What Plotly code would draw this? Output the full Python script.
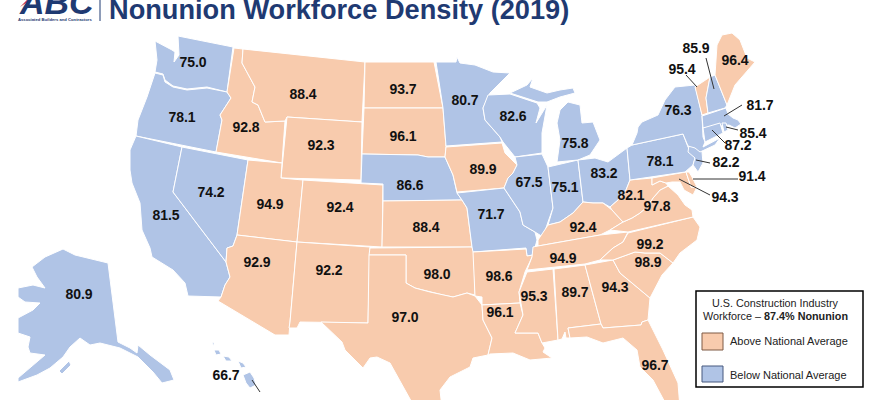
import plotly.graph_objects as go

# no topojson offline, so the state outlines are traced off the picture (x, y in image pixels)
outlines = {
    "WA": [(178,36),(233,47),(227,92),(207,87),(187,89),(173,86),(165,80),(163,74),(155,72),(157,60),(155,41),(163,45),(172,50),(175,52),(174,62),(179,55)],
    "OR": [(155,73),(163,75),(165,82),(173,87),(187,90),(207,88),(227,92),(231,98),(220,115),(222,120),(216,152),(136,136),(138,120),(147,97)],
    "CA": [(136,136),(182,147),(173,192),(226,262),(230,277),(225,285),(221,297),(188,296),(185,283),(173,270),(152,257),(150,248),(142,230),(140,203),(132,183),(130,170),(130,150)],
    "NV": [(182,147),(248,160),(237,235),(233,246),(227,248),(226,262),(173,192)],
    "ID": [(234,48),(243,49),(242,63),(255,87),(252,102),(258,105),(265,122),(285,121),(282,163),(216,152),(222,120),(220,115),(231,98),(227,92)],
    "MT": [(243,49),(365,62),(362,122),(287,117),(285,121),(265,122),(258,105),(252,102),(255,87),(242,63)],
    "WY": [(287,117),(362,122),(361,180),(281,178)],
    "UT": [(248,160),(282,163),(281,178),(303,180),(297,242),(237,235)],
    "CO": [(303,180),(383,185),(382,247),(297,242)],
    "AZ": [(237,235),(297,242),(290,322),(289,335),(275,335),(250,320),(218,301),(221,297),(225,285),(230,277),(226,262),(227,248),(233,246)],
    "NM": [(297,242),(370,247),(368,323),(321,322),(300,322),(297,328),(289,328),(290,322)],
    "ND": [(365,62),(434,62),(443,108),(364,108)],
    "SD": [(364,108),(443,108),(446,147),(445,157),(428,157),(418,155),(362,154)],
    "NE": [(362,154),(418,155),(428,157),(445,157),(453,175),(457,193),(462,200),(383,201),(383,184),(361,183)],
    "KS": [(383,201),(462,200),(467,208),(472,247),(382,247)],
    "OK": [(370,248),(472,247),(474,253),(475,295),(467,293),(453,297),(443,295),(430,292),(415,288),(406,283),(406,255),(369,255)],
    "TX": [(369,255),(406,255),(406,283),(415,288),(430,292),(443,295),(453,297),(467,293),(475,296),(482,305),(483,320),(492,338),(488,355),(473,358),(470,367),(450,377),(440,390),(442,408),(415,408),(390,363),(377,357),(370,358),(363,368),(345,350),(342,342),(321,322),(368,323)],
    "MN": [(436,62),(456,62),(457,57),(460,63),(475,65),(493,72),(510,73),(490,93),(488,97),(483,108),(485,120),(500,137),(502,142),(446,146),(443,108)],
    "IA": [(446,147),(502,143),(505,153),(517,165),(513,173),(508,178),(504,188),(457,192),(453,175),(445,157)],
    "MO": [(457,193),(504,188),(520,212),(523,225),(535,232),(537,240),(533,255),(527,256),(526,248),(473,252),(472,247),(467,208),(462,200)],
    "AR": [(473,252),(526,249),(527,256),(533,255),(525,272),(519,292),(520,303),(482,305),(482,297),(475,296)],
    "LA": [(482,305),(520,303),(523,315),(515,333),(538,333),(542,343),(545,348),(543,352),(552,358),(530,360),(513,353),(490,354),(488,355),(492,338),(483,320)],
    "WI": [(488,95),(510,94),(537,103),(540,108),(536,123),(547,105),(542,133),(542,153),(515,157),(503,142),(500,137),(485,120),(483,108)],
    "IL": [(515,157),(542,154),(548,167),(553,208),(548,222),(543,237),(535,232),(523,225),(520,212),(504,188),(508,178),(513,173),(517,165)],
    "IN": [(548,167),(578,160),(583,202),(573,213),(560,222),(548,225),(553,208)],
    "MI": [(510,93),(527,85),(533,78),(530,87),(547,93),(560,90),(573,88),(575,93),(560,97),(547,102),(538,102)],
    "MI2": [(568,102),(580,105),(582,123),(593,122),(600,140),(590,155),(578,160),(557,162),(560,140),(557,123),(560,110)],
    "OH": [(578,160),(595,158),(608,162),(627,148),(630,180),(626,190),(618,200),(610,207),(603,203),(593,203),(583,202)],
    "KY": [(538,240),(548,225),(560,222),(573,213),(583,202),(593,203),(603,203),(612,210),(623,222),(610,230),(600,235),(538,246)],
    "TN": [(533,247),(538,246),(600,235),(628,232),(623,242),(613,248),(600,260),(585,264),(527,270),(532,257)],
    "MS": [(527,272),(553,269),(558,340),(545,342),(542,343),(538,333),(515,333),(523,315),(519,292)],
    "AL": [(554,269),(585,265),(601,324),(568,328),(570,338),(566,338),(565,332),(562,339),(558,340)],
    "GA": [(585,265),(613,260),(620,273),(650,298),(648,320),(642,322),(641,325),(603,328),(601,324)],
    "FL": [(568,328),(601,324),(603,328),(641,325),(642,322),(648,320),(663,350),(678,383),(680,408),(668,408),(653,380),(640,367),(637,350),(623,338),(603,343),(587,337),(570,338)],
    "SC": [(613,260),(635,252),(645,253),(660,253),(673,263),(662,275),(650,298),(620,273)],
    "NC": [(628,233),(693,217),(700,227),(697,240),(680,253),(673,263),(660,253),(645,253),(635,252),(613,260),(600,260),(613,248),(623,242)],
    "VA": [(623,222),(632,218),(640,213),(647,207),(653,198),(660,190),(668,186),(672,190),(678,195),(685,205),(692,210),(693,217),(628,232),(610,230)],
    "WV": [(618,200),(626,190),(630,180),(652,178),(652,185),(660,181),(666,183),(668,186),(660,190),(653,198),(647,207),(640,213),(632,218),(623,222),(612,210),(610,207)],
    "MD": [(652,178),(686,172),(691,187),(697,187),(693,195),(684,190),(680,182),(672,182),(666,183),(660,181),(652,185)],
    "DE": [(686,172),(689,172),(692,177),(697,187),(691,187)],
    "PA": [(627,148),(632,145),(683,134),(688,147),(695,158),(693,165),(685,172),(630,180)],
    "NJ": [(689,145),(700,143),(702,152),(703,163),(698,172),(693,165),(695,158),(688,152)],
    "NY": [(632,145),(637,133),(638,127),(642,122),(658,115),(665,100),(675,87),(695,85),(702,115),(703,137),(705,142),(703,147),(720,138),(715,145),(700,152),(695,148),(688,146),(683,134)],
    "VT": [(695,87),(710,77),(706,98),(708,113),(702,115)],
    "NH": [(710,77),(715,75),(727,105),(725,108),(708,113),(706,98)],
    "ME": [(715,75),(717,45),(722,35),(732,33),(740,40),(747,58),(755,62),(742,77),(735,85),(727,105)],
    "MA": [(702,116),(726,108),(728,114),(733,118),(738,120),(741,124),(735,128),(729,125),(703,128)],
    "CT": [(703,128),(720,123),(723,133),(705,142)],
    "RI": [(722,123),(726,123),(728,130),(724,132)],
    "AK": [(32,267),(45,257),(63,249),(75,255),(108,263),(118,342),(130,348),(137,353),(138,345),(150,355),(170,370),(174,380),(162,383),(153,372),(138,357),(120,348),(100,343),(90,345),(80,338),(70,347),(63,357),(50,368),(37,375),(18,382),(18,378),(45,355),(30,353),(28,347),(30,337),(18,333),(18,318),(33,310),(40,303),(25,302),(18,297),(18,288),(33,285),(45,288),(37,277)],
    "AK2": [(59,371),(69,361),(71,365),(62,374)],
    "HI": [(243,375),(250,372),(254,378),(256,385),(250,388),(246,383)],
    "HI2": [(238,361),(243,363),(246,367),(241,368)],
    "HI3": [(223,356),(229,357),(232,361),(226,361)],
    "HI4": [(214,350),(219,350),(221,354),(216,355)],
    "HI5": [(212,343),(214,342),(214,346)],
}

states = ["WA","OR","CA","NV","ID","MT","WY","UT","CO","AZ","NM","ND","SD","NE","KS","OK","TX","MN","IA","MO","AR","LA",
          "WI","IL","IN","MI","OH","KY","TN","MS","AL","GA","FL","SC","NC","VA","WV","MD","DE","PA","NJ","NY","VT","NH","ME",
          "MA","CT","RI","AK","HI"]
values = [75.0,78.1,81.5,74.2,92.8,88.4,92.3,94.9,92.4,92.9,92.2,93.7,96.1,86.6,88.4,98.0,97.0,80.7,89.9,71.7,98.6,96.1,
          82.6,67.5,75.1,75.8,83.2,92.4,94.9,95.3,89.7,94.3,96.7,98.9,99.2,97.8,82.1,94.3,91.4,78.1,82.2,76.3,95.4,85.9,96.4,
          81.7,87.2,85.4,80.9,66.7]
label_x = [193,182,166,211,246,303,321,270,340,257,329,403,403,410,426,437,405,465,483,491,499,500,
           513,529,565,575,604,583,563,534,575,615,655,648,650,657,631,725,752,660,726,678,682,696,735,
           760,738,753,79,226]
label_y = [63,118,216,193,128,95,146,205,208,263,271,90,137,186,228,275,318,101,170,215,277,313,
           117,183,188,144,174,228,259,297,293,288,366,263,245,207,196,198,177,162,163,111,70,49,61,
           106,146,134,295,376]

# leader lines: label end, state end
leader_x = [[706,714],[686,697],[742,724],[738,726],[725,712],[710,696],[738,693],[710,679],[252,260]]
leader_y = [[58,89],[75,87],[105,116],[130,127],[143,130],[163,160],[179,179],[195,179],[380,392]]

NATIONAL_AVG = 87.4
ABOVE = "#F8CBAD"
BELOW = "#B0C4E6"

fig = go.Figure()

# WV is printed 82.1 but shaded orange in the reference
shade = {s: (ABOVE if v > NATIONAL_AVG else BELOW) for s, v in zip(states, values)}
shade["WV"] = ABOVE

for name, pts in outlines.items():
    base = name.rstrip("2345")
    fig.add_trace(go.Scatter(
        x=[p[0] for p in pts] + [pts[0][0]], y=[p[1] for p in pts] + [pts[0][1]],
        mode="lines", fill="toself", fillcolor=shade[base],
        line=dict(color="white", width=1), hoverinfo="skip",
    ))

for lx, ly in zip(leader_x, leader_y):
    fig.add_trace(go.Scatter(x=lx, y=ly, mode="lines", line=dict(color="#333333", width=1), hoverinfo="skip"))

fig.add_trace(go.Scatter(
    x=label_x, y=label_y, mode="text", text=[f"{v:.1f}" for v in values],
    textfont=dict(family="Liberation Sans", size=14, color="#111111", weight="bold"),
    hoverinfo="skip",
))

NAVY = "#1F3A72"
fig.add_annotation(x=107, y=9, text="<b>Nonunion Workforce Density (2019)</b>", xanchor="left", yanchor="middle",
                   showarrow=False, font=dict(family="Liberation Sans", size=27.2, color=NAVY))
fig.add_annotation(x=56, y=2, text="<b><i>ABC</i></b>", xanchor="center", yanchor="middle",
                   showarrow=False, font=dict(family="Liberation Sans", size=34, color=NAVY))
fig.add_annotation(x=55, y=19, text="<b>Associated Builders and Contractors</b>", xanchor="center", yanchor="middle",
                   showarrow=False, font=dict(family="Liberation Sans", size=4.2, color=NAVY))
fig.add_annotation(x=255, y=396, text="<b>III</b>", showarrow=False, yanchor="top",
                   font=dict(family="Liberation Sans", size=11, color="#111111"))

shapes = [
    dict(type="line", x0=100, x1=100, y0=0, y1=21, line=dict(color=NAVY, width=1)),
    dict(type="path", path="M 20 7 L 27 0 L 30 0 Z", fillcolor="#C8202F", line=dict(width=0)),
    dict(type="rect", x0=696, x1=863, y0=291, y1=387, line=dict(color="black", width=1.5), fillcolor="white"),
    dict(type="rect", x0=702, x1=723, y0=333, y1=350, line=dict(color="#7F5A45", width=1), fillcolor=ABOVE),
    dict(type="rect", x0=702, x1=723, y0=366, y1=382, line=dict(color="#46597E", width=1), fillcolor=BELOW),
]
legend_texts = [
    (775, 303, "center", "U.S. Construction Industry", 10.8),
    (775, 316, "center", "Workforce – <b>87.4% Nonunion</b>", 10.8),
    (728, 341, "left", "Above National Average", 11),
    (728, 375, "left", "Below National Average", 11),
]
for x, y, anchor, txt, size in legend_texts:
    fig.add_annotation(x=x, y=y, text=txt, xanchor=anchor, yanchor="middle", showarrow=False,
                       font=dict(family="Liberation Sans", size=size, color="#222222"))

fig.update_layout(
    width=870, height=400, margin=dict(l=0, r=0, t=0, b=0), showlegend=False,
    paper_bgcolor="white", plot_bgcolor="white", shapes=shapes,
    xaxis=dict(range=[0, 870], visible=False, fixedrange=True),
    yaxis=dict(range=[400, 0], visible=False, fixedrange=True),
)
# page margin would push everything 8px in; the reference title sits hard against the top edge
fig.write_html("out.html", config={"displayModeBar": False}, post_script="document.body.style.margin='0';")
